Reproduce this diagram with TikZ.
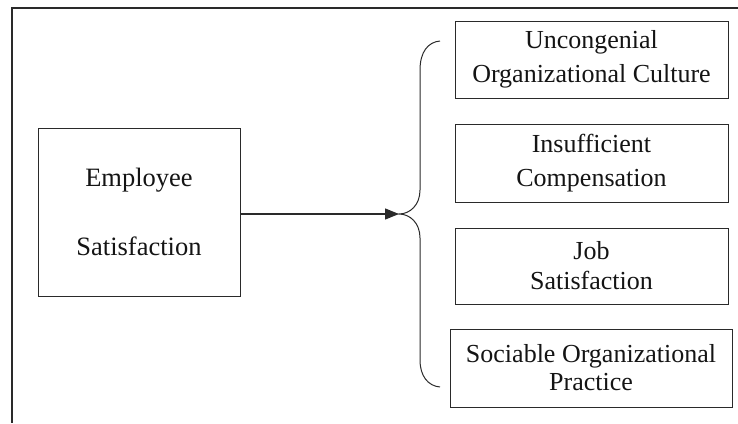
\documentclass[tikz,border=0pt]{standalone}
\usepackage{fontspec}
\setmainfont{Liberation Serif}
\usetikzlibrary{arrows.meta}
\definecolor{lc}{HTML}{2A2A2A}
\tikzset{
  rbox/.style={draw=lc, line width=1pt, minimum width=273pt, minimum height=77pt, align=center, inner sep=0pt, text=black!92},
  frame/.style={draw=lc, line width=1.3pt},
}
\begin{document}
\begin{tikzpicture}[x=1pt,y=-1pt]
\useasboundingbox (0,0) rectangle (738,423);
\draw[frame] (738,8) -- (12,8) -- (12,423);
\node[rbox, minimum width=202pt, minimum height=168pt, font=\fontsize{26.5}{69}\selectfont] (emp) at (139,212) {Employee\\Satisfaction};
\node[rbox, font=\fontsize{26}{34}\selectfont] (b1) at (591.5,59.5) {Uncongenial\\Organizational Culture};
\node[rbox, minimum height=78pt, font=\fontsize{26}{34}\selectfont] (b2) at (591.5,163) {Insufficient\\Compensation};
\node[rbox, minimum height=76pt, font=\fontsize{26}{30}\selectfont] (b3) at (591.5,266) {Job\\Satisfaction};
\node[rbox, minimum width=282pt, minimum height=78pt, font=\fontsize{26}{28}\selectfont] (b4) at (591,368) {Sociable Organizational\\Practice};
\coordinate (tip) at (399,214);
\draw[draw=lc, line width=1.4pt, -{Triangle[length=14pt,width=11pt]}] (emp.east |- tip) -- (tip);
\draw[draw=lc, line width=1pt] (440,41) .. controls (428,42) and (420,52) .. (420,70) -- (420,190) .. controls (420,205) and (410,214) .. (tip) .. controls (410,214) and (420,223) .. (420,238) -- (420,360) .. controls (420,376) and (428,386) .. (440,387);
\end{tikzpicture}
\end{document}
